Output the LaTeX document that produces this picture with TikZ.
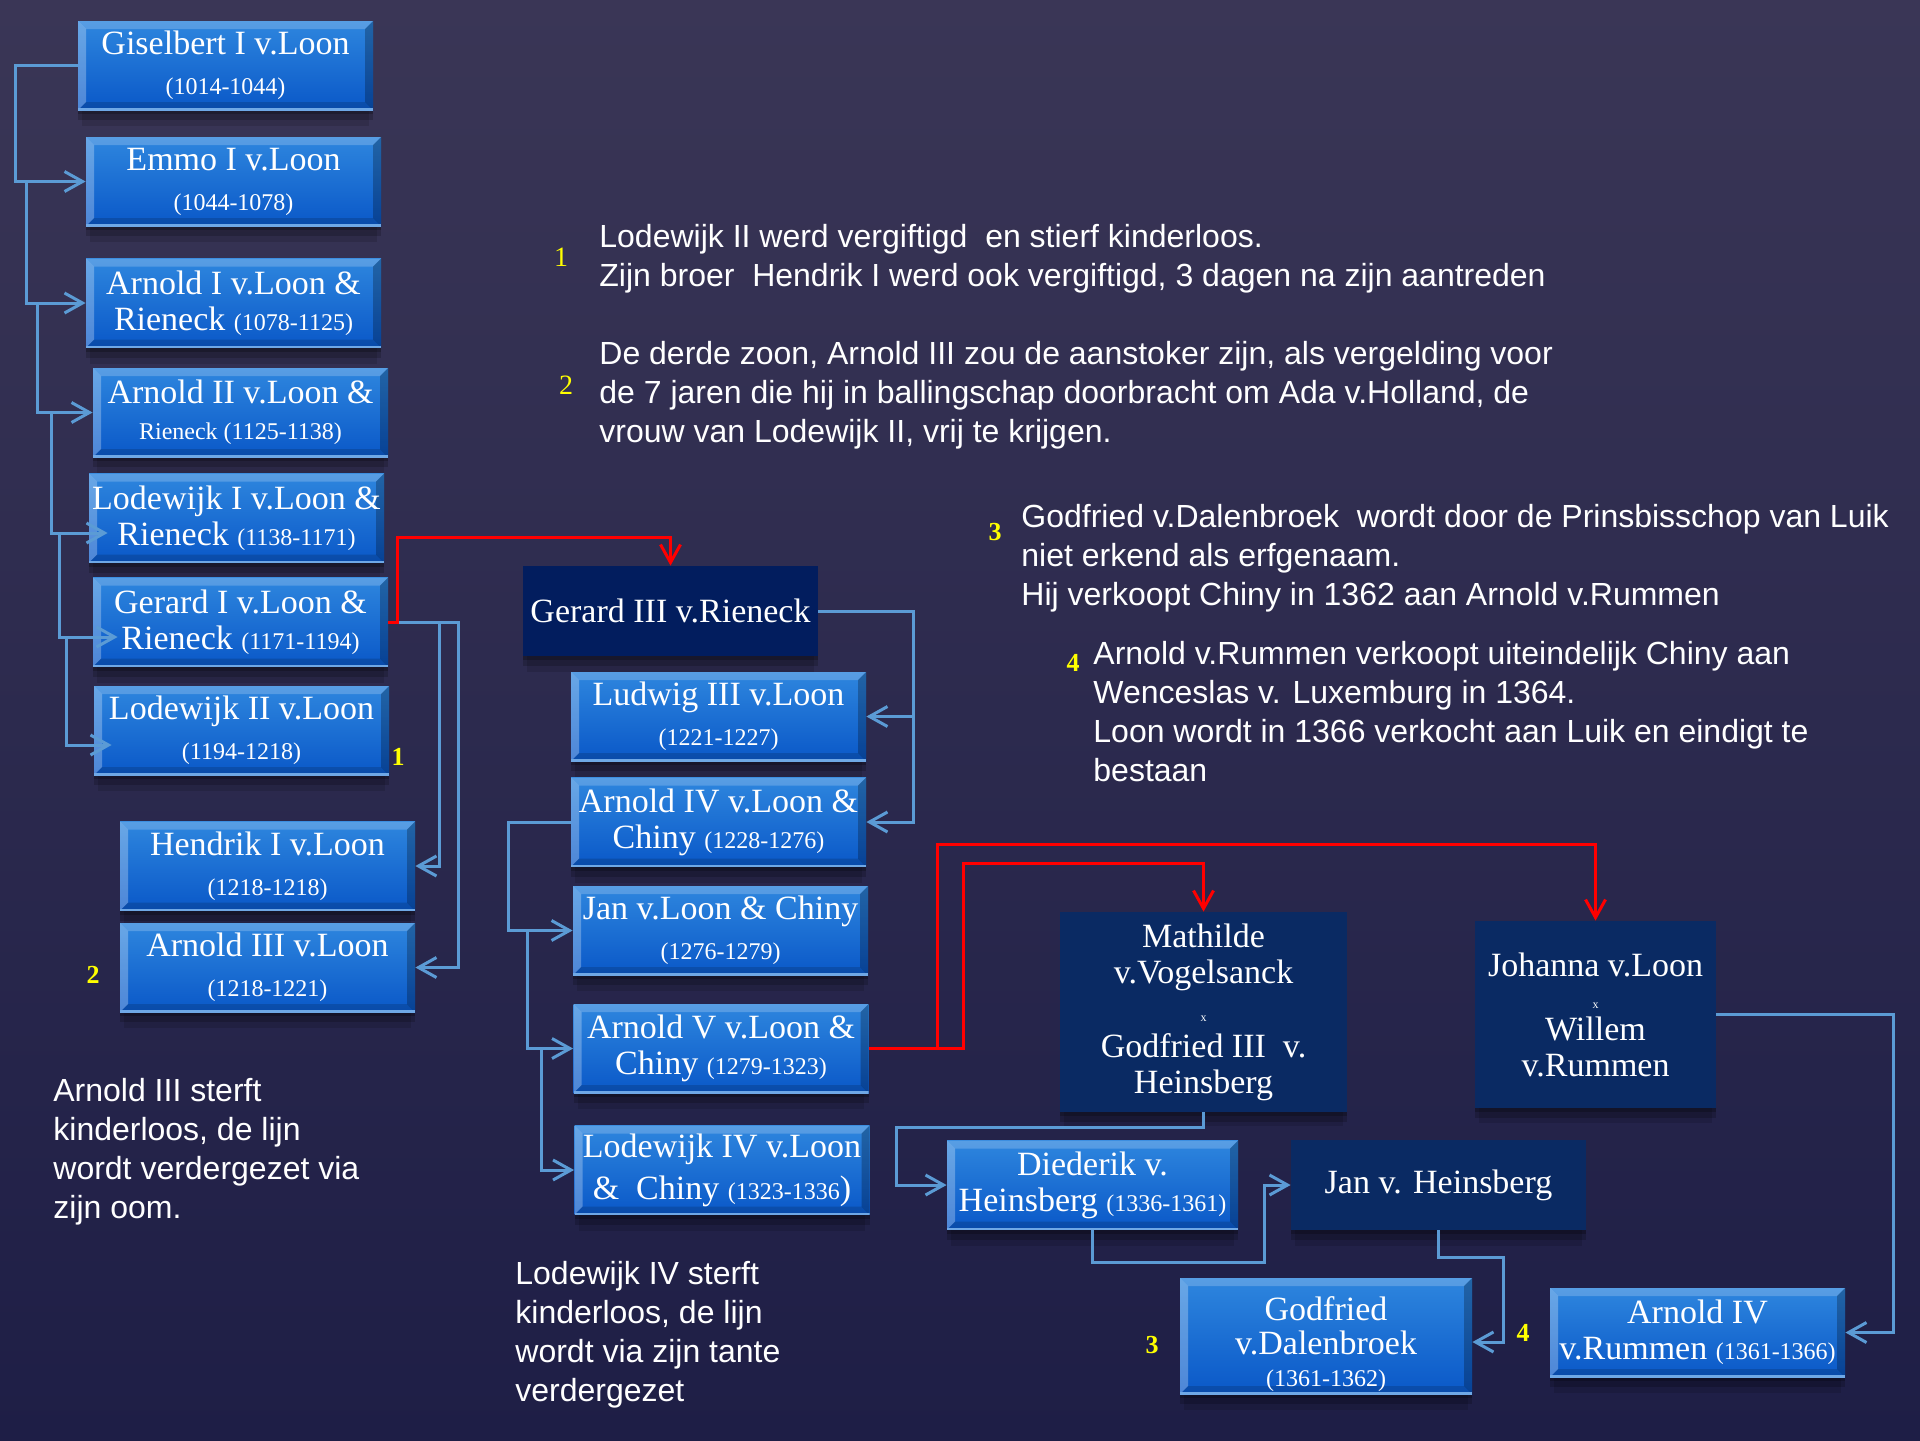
\documentclass[tikz,border=0pt]{standalone}
\usepackage{fontspec}
\setmainfont{Liberation Serif}
\setsansfont{Liberation Sans}
\usetikzlibrary{arrows.meta, calc, shadows}
\definecolor{bgtop}{HTML}{3A3656}
\definecolor{bgbot}{HTML}{1E1E46}
\definecolor{boxtop}{HTML}{2E86DE}
\definecolor{boxbot}{HTML}{0A58C8}
\definecolor{boxrim}{HTML}{6FA8E6}
\definecolor{navy}{HTML}{0A2A63}
\definecolor{navydark}{HTML}{021D5E}
\definecolor{linkblue}{HTML}{5B9BD5}
\definecolor{numyellow}{HTML}{FFFF00}
\newcommand{\yr}[1]{{\fontsize{12}{18}\selectfont #1}}

\begin{document}
\begin{tikzpicture}[x=0.5pt, y=-0.5pt,
    every node/.style={text=white, inner sep=1pt},
    box/.style={align=center, font=\fontsize{17}{18}\selectfont, minimum width=147.5pt, minimum height=44.5pt},
    bevel/.style={path picture={
        \fill[white, opacity=.2] (path picture bounding box.north west) -- (path picture bounding box.north east)
            -- ([shift={(-4pt,-4pt)}]path picture bounding box.north east) -- ([shift={(4pt,-4pt)}]path picture bounding box.north west) -- cycle;
        \fill[white, opacity=.28] (path picture bounding box.north west) -- ([shift={(4pt,-4pt)}]path picture bounding box.north west)
            -- ([shift={(4pt,4pt)}]path picture bounding box.south west) -- (path picture bounding box.south west) -- cycle;
        \fill[black, opacity=.25] (path picture bounding box.north east) -- ([shift={(-4pt,-4pt)}]path picture bounding box.north east)
            -- ([shift={(-4pt,4pt)}]path picture bounding box.south east) -- (path picture bounding box.south east) -- cycle;
        \fill[black, opacity=.15] (path picture bounding box.south west) -- ([shift={(4pt,4pt)}]path picture bounding box.south west)
            -- ([shift={(-4pt,4pt)}]path picture bounding box.south east) -- (path picture bounding box.south east) -- cycle;
        \draw[boxrim, line width=2pt] (path picture bounding box.south west) -- (path picture bounding box.south east);
    }},
    shade/.style={
        drop shadow={shadow xshift=0pt, shadow yshift=-2pt, opacity=.22, fill=black},
        drop shadow={shadow xshift=0pt, shadow yshift=-5pt, opacity=.18, fill=black},
        drop shadow={shadow xshift=0pt, shadow yshift=-9pt, shadow scale=.97, opacity=.12, fill=black}},
    bluebox/.style={box, top color=boxtop, bottom color=boxbot, bevel, shade},
    navybox/.style={box, fill=navy, shade},
    link/.style={draw=linkblue, line width=1.5pt, -{Straight Barb[length=9pt, width=10pt]}},
    redlink/.style={draw=red, line width=1.5pt, -{Straight Barb[length=9pt, width=10pt]}},
    note/.style={anchor=north west, align=left, inner sep=0pt, font=\sffamily\fontsize{16}{19.4}\selectfont},
    num/.style={text=numyellow, font=\fontsize{13}{15}\selectfont\bfseries}
]
\useasboundingbox (0,0) rectangle (1920,1440);
\fill[top color=bgtop, bottom color=bgbot] (0,0) rectangle (1920,1440);

% Left column
\node[bluebox] (gis) at (225.5,65.5) {Giselbert I v.Loon\\[2pt]\yr{(1014-1044)}};
\node[bluebox] (emmo) at (233.5,181.5) {Emmo I v.Loon\\[2pt]\yr{(1044-1078)}};
\node[bluebox] (arn1) at (233.5,303) {Arnold I v.Loon \&\\Rieneck \yr{(1078-1125)}};
\node[bluebox] (arn2) at (240.5,412.5) {Arnold II v.Loon \&\\\yr{Rieneck (1125-1138)}};
\node[bluebox] (lod1) at (236.5,518) {Lodewijk I v.Loon \&\\Rieneck \yr{(1138-1171)}};
\node[bluebox] (ger1) at (240.5,622) {Gerard I v.Loon \&\\Rieneck \yr{(1171-1194)}};
\node[bluebox] (lod2) at (241.5,730.5) {Lodewijk II v.Loon\\[2pt]\yr{(1194-1218)}};
\node[bluebox] (hen1) at (267.5,866) {Hendrik I v.Loon\\[2pt]\yr{(1218-1218)}};
\node[bluebox] (arn3) at (267.5,967.5) {Arnold III v.Loon\\[2pt]\yr{(1218-1221)}};

% Middle column
\node[navybox, fill=navydark, minimum height=45pt] (ger3) at (670.5,611) {Gerard III v.Rieneck};
\node[bluebox] (lud3) at (718.5,716.5) {Ludwig III v.Loon\\[2pt]\yr{(1221-1227)}};
\node[bluebox] (arn4) at (718.5,822) {Arnold IV v.Loon \&\\Chiny \yr{(1228-1276)}};
\node[bluebox] (jan) at (720.5,930.5) {Jan v.Loon \& Chiny\\[2pt]\yr{(1276-1279)}};
\node[bluebox] (arn5) at (721,1048.5) {Arnold V v.Loon \&\\Chiny \yr{(1279-1323)}};
\node[bluebox] (lod4) at (722,1170) {Lodewijk IV v.Loon\\[3pt]\& ~Chiny \yr{(1323-1336}) };

% Right part
\node[navybox, minimum width=143.5pt, minimum height=100pt] (math) at (1203.5,1012)
    {Mathilde\\v.Vogelsanck\\[1pt]{\fontsize{6}{18}\selectfont x}\\[0pt]Godfried III ~v.\\Heinsberg};
\node[navybox, minimum width=120.5pt, minimum height=93.5pt] (joh) at (1595.5,1014.5)
    {Johanna v.Loon\\[-2pt]{\fontsize{6}{18}\selectfont x}\\[-2pt]Willem\\v.Rummen};
\node[bluebox, minimum width=145.5pt] (died) at (1092.5,1185) {Diederik v.\\Heinsberg \yr{(1336-1361)}};
\node[navybox, minimum height=45pt] (janh) at (1438.5,1185) {Jan v. Heinsberg};
\node[bluebox, minimum width=146pt, minimum height=58pt] (godf) at (1326,1336)
    {\rule{0pt}{20pt}Godfried\\[-1pt]v.Dalenbroek\\[-2pt]\yr{(1361-1362)}};
\node[bluebox] (arnr) at (1697.5,1332.5) {Arnold IV\\v.Rummen \yr{(1361-1366)}};

% Left column links
\draw[link] (gis.west) -- ++(-62,0) |- (emmo.west);
\draw[link] ($(emmo.west)+(-59,0)$) |- (arn1.west);
\draw[link] ($(arn1.west)+(-48,0)$) |- (arn2.west);
\draw[link] ($(arn2.west)+(-41,0)$) |- ($(lod1.west)+(19,15)$);
\draw[link] ($(lod1.west)+(-29,15)$) |- ($(ger1.west)+(25,15)$);
\draw[link] ($(ger1.west)+(-26,15)$) |- ($(lod2.west)+(18,14.5)$);
\draw[link] ($(ger1.east)+(9,0)$) -- ++(42,0) |- (hen1.east);
\draw[link] ($(ger1.east)+(9,0)$) -- ++(61,0) |- (arn3.east);
\draw[redlink] (ger1.east) -| ++(9,-85) -| (ger3.north);

% Middle column links
\draw[link] (ger3.east) -- ++(95,0) |- (lud3.east);
\draw[link] ($(ger3.east)+(95,0)$) |- (arn4.east);
\draw[link] (arn4.west) -- ++(-62,0) |- (jan.west);
\draw[link] ($(jan.west)+(-45,0)$) |- (arn5.west);
\draw[link] ($(arn5.west)+(-32,0)$) |- (lod4.west);
\draw[redlink] (arn5.east) -| ++(69,-204) -| (joh.north);
\draw[redlink] ($(arn5.east)+(69,0)$) -| ++(26,-185) -| (math.north);

% Right part links
\draw[link] (math.south) -- ++(0,15) -| ($(died.west)+(-50,0)$) -- (died.west);
\draw[link] (died.south) -- ++(0,33) -| ($(janh.west)+(-26,0)$) -- (janh.west);
\draw[link] (janh.south) -- ++(0,27) -| ($(godf.east)+(31,6)$) -- ($(godf.east)+(0,6)$);
\draw[link] (joh.east) -- ++(177,0) |- (arnr.east);

% Numbers
\node[num] (numL1) at (398,757) {1};
\node[num] (numL2) at (93,975) {2};
\node[num] (numL3) at (1152,1345) {3};
\node[num] (numL4) at (1523,1333) {4};
\node[num, font=\fontsize{14}{15}\selectfont] (numT1) at (561,257) {1};
\node[num, font=\fontsize{14}{15}\selectfont] (numT2) at (566,385) {2};
\node[num] (numT3) at (995,532) {3};
\node[num] (numT4) at (1073,663) {4};

% Notes
\node[note] (txtOne) at (599,224) {Lodewijk II werd vergiftigd~ en stierf kinderloos.\\Zijn broer~ Hendrik I werd ook vergiftigd, 3 dagen na zijn aantreden};
\node[note] (txtTwo) at (599,341) {De derde zoon, Arnold III zou de aanstoker zijn, als vergelding voor\\de 7 jaren die hij in ballingschap doorbracht om Ada v.Holland, de\\vrouw van Lodewijk II, vrij te krijgen.};
\node[note] (txtThree) at (1021,504) {Godfried v.Dalenbroek~ wordt door de Prinsbisschop van Luik\\niet erkend als erfgenaam.\\Hij verkoopt Chiny in 1362 aan Arnold v.Rummen};
\node[note] (txtFour) at (1093,641) {Arnold v.Rummen verkoopt uiteindelijk Chiny aan\\Wenceslas v. Luxemburg in 1364.\\Loon wordt in 1366 verkocht aan Luik en eindigt te\\bestaan};
\node[note] (txtArn3) at (53,1078) {Arnold III sterft\\kinderloos, de lijn\\wordt verdergezet via\\zijn oom.};
\node[note] (txtLod4) at (515,1261) {Lodewijk IV sterft\\kinderloos, de lijn\\wordt via zijn tante\\verdergezet};
\end{tikzpicture}
\end{document}
